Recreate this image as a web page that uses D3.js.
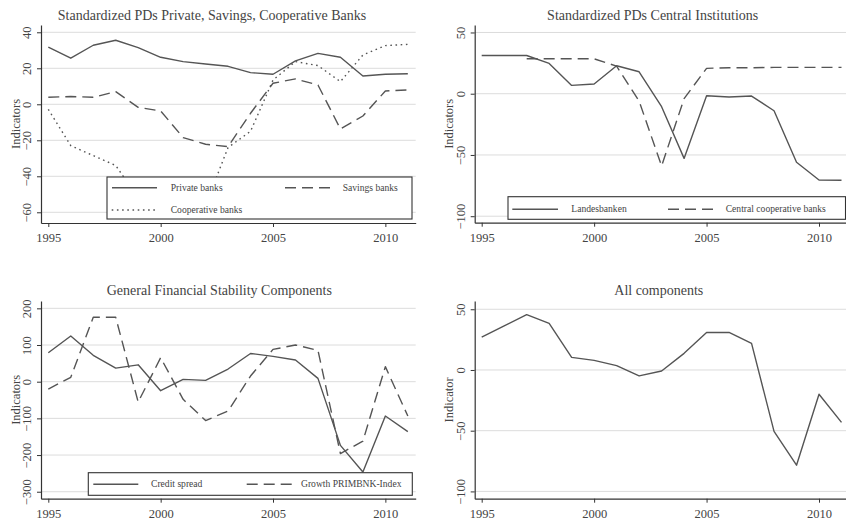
<!DOCTYPE html>
<html><head><meta charset="utf-8">
<script src="https://cdn.jsdelivr.net/npm/d3@7"></script>
<style>
body{margin:0;background:#fff}
svg{display:block}
text{font-family:"Liberation Serif","Times New Roman",serif;fill:#444}
</style>
</head><body>
<svg id="c" width="846" height="522"></svg>
<script>
// ---------- data ----------
const years = [1995,1996,1997,1998,1999,2000,2001,2002,2003,2004,2005,2006,2007,2008,2009,2010,2011];
const xTicks = [1995,2000,2005,2010];

const privateBanks     = [31.7,25.6,32.8,35.6,31.5,26.1,23.7,22.4,21.1,17.6,16.7,24.1,28.3,26.1,15.7,16.7,17.0];
const savingsBanks     = [3.9,4.3,3.9,7.0,-1.7,-3.7,-18.5,-22.2,-23.5,-5.0,11.7,14.1,10.7,-13.7,-6.5,7.4,8.0];
const cooperativeBanks = [-2.8,-23.0,-28.5,-34.0,-52,-55,-57,-56,-24.0,-15.0,13.5,23.7,21.5,12.6,27.4,32.6,33.3];

const landesbanken     = [31.2,31.2,31.2,24.7,6.8,7.9,22.8,17.9,-10.6,-52.8,-1.6,-2.7,-1.9,-13.9,-56.0,-70.4,-70.7];
const centralCoop      = [null,null,28.5,28.5,28.5,28.5,22.5,-6.0,-59.0,-4.0,20.7,21.2,21.2,21.5,21.5,21.5,21.5];

const creditSpread     = [79,124.5,72,37,46,-24.5,6.4,3.6,34.5,77,69,59,9,-173.6,-246,-93.6,-136];
const growthPrimbnk    = [-20,12,175.5,175.5,-55.5,65.5,-48,-106,-80,15.5,88,100,85.5,-196,-162,41,-93.6];

const allComponents    = [27,36.3,45.6,38.3,10.4,7.9,3.6,-4.9,-0.8,13.7,30.9,30.9,21.9,-50.5,-78.4,-20,-43.2];

const ticksP1 = [-60,-40,-20,0,20,40];
const ticksP2 = [-100,-50,0,50];
const ticksP3 = [-300,-200,-100,0,100,200];
const ticksP4 = [-100,-50,0,50];

// ---------- styles ----------
const LINE = "#555";
const DASH = "11,6";
const DOT = "1.6,3.6";

const panels = [
  { title:"Standardized PDs Private, Savings, Cooperative Banks", tx:212, ty:19.5,
    box:{l:41,r:415.7,t:25,b:223}, xd:[1994.675,2011.35], yd:[-65.95,44.05], yTicks:ticksP1, yLabel:"Indicators",
    series:[{v:privateBanks,d:null,name:"Private banks"},{v:savingsBanks,d:DASH,name:"Savings banks"},{v:cooperativeBanks,d:DOT,name:"Cooperative banks"}],
    legend:{x0:107,x1:412,y0:177,y1:219, items:[{s:0,l:112,r:157,t:170.7,y:187.7},{s:1,l:285,r:330,t:342.7,y:187.7},{s:2,l:111.7,r:156.7,t:170.7,y:210}]}
  },
  { title:"Standardized PDs Central Institutions", tx:652.7, ty:19.5,
    box:{l:474.7,r:846,t:25,b:222.7}, xd:[1994.689,2011.2], yd:[-105.3,56.1], yTicks:ticksP2, yLabel:"Indicators",
    series:[{v:landesbanken,d:null,name:"Landesbanken"},{v:centralCoop,d:DASH,name:"Central cooperative banks"}],
    legend:{x0:508,x1:845.5,y0:196.7,y1:219.3, items:[{s:0,l:512.3,r:558,t:571.3,y:209.3},{s:1,l:668,r:713,t:725.7,y:209.3}]}
  },
  { title:"General Financial Stability Components", tx:219.3, ty:295,
    box:{l:41,r:415.7,t:301,b:498.7}, xd:[1994.675,2011.35], yd:[-319,220], yTicks:ticksP3, yLabel:"Indicators",
    series:[{v:creditSpread,d:null,name:"Credit spread"},{v:growthPrimbnk,d:DASH,name:"Growth PRIMBNK-Index"}],
    legend:{x0:88.3,x1:412.3,y0:472.7,y1:495.3, items:[{s:0,l:93.3,r:138.3,t:151,y:484.3},{s:1,l:246.7,r:291.7,t:301,y:484.3}]}
  },
  { title:"All components", tx:658.8, ty:295,
    box:{l:474.7,r:846,t:301,b:498.7}, xd:[1994.689,2011.2], yd:[-106,56.8], yTicks:ticksP4, yLabel:"Indicator",
    series:[{v:allComponents,d:null,name:"All components"}],
    legend:null
  }
];

const svg = d3.select("#c");

panels.forEach((p,pi)=>{
  const g = svg.append("g");
  const x = d3.scaleLinear().domain(p.xd).range([p.box.l,p.box.r]);
  const y = d3.scaleLinear().domain(p.yd).range([p.box.b,p.box.t]);

  // grid
  g.append("g").selectAll("line").data(p.yTicks).join("line")
    .attr("x1",p.box.l).attr("x2",p.box.r)
    .attr("y1",d=>y(d)).attr("y2",d=>y(d))
    .attr("stroke","#dcdcdc").attr("stroke-width",1);

  // clip
  const cid = "clip"+pi;
  svg.append("clipPath").attr("id",cid).append("rect")
    .attr("x",p.box.l).attr("y",p.box.t).attr("width",p.box.r-p.box.l).attr("height",p.box.b-p.box.t);

  // lines
  const line = d3.line().defined(d=>d[1]!=null).x(d=>x(d[0])).y(d=>y(d[1]));
  p.series.forEach(s=>{
    g.append("path").datum(years.map((yr,i)=>[yr,s.v[i]]))
      .attr("d",line).attr("fill","none").attr("stroke",LINE)
      .attr("stroke-width",1.4).attr("stroke-linejoin","round")
      .attr("stroke-dasharray",s.d).attr("clip-path",`url(#${cid})`);
  });

  // x axis
  const xa = g.append("g").attr("transform",`translate(0,${p.box.b})`)
    .call(d3.axisBottom(x).tickValues(xTicks).tickFormat(d3.format("d")).tickSize(4).tickSizeOuter(0).tickPadding(6.5));
  xa.select(".domain").attr("stroke","#333").attr("stroke-width",1.2);
  xa.selectAll(".tick line").attr("stroke","#333");
  xa.selectAll("text").attr("font-size",12.5).attr("fill","#444").attr("font-family",'"Liberation Serif",serif');

  // y axis
  const ya = g.append("g").attr("transform",`translate(${p.box.l},0)`)
    .call(d3.axisLeft(y).tickValues(p.yTicks).tickSize(4).tickSizeOuter(0));
  ya.select(".domain").attr("stroke","#333").attr("stroke-width",1.2);
  ya.selectAll(".tick line").attr("stroke","#333");
  ya.selectAll("text").attr("font-size",12.5).attr("fill","#444").attr("font-family",'"Liberation Serif",serif')
    .attr("x",null).attr("dy",null).attr("text-anchor","middle")
    .attr("transform","translate(-10,0) rotate(-90)");

  // y label
  g.append("text").attr("transform",`translate(${p.box.l-21.5},${(p.box.t+p.box.b)/2}) rotate(-90)`)
    .attr("text-anchor","middle").attr("font-size",12.5).text(p.yLabel);

  // title
  g.append("text").attr("x",p.tx).attr("y",p.ty).attr("text-anchor","middle")
    .attr("font-size",14).text(p.title);

  // legend
  if(p.legend){
    const L = p.legend;
    g.append("rect").attr("x",L.x0).attr("y",L.y0).attr("width",L.x1-L.x0).attr("height",L.y1-L.y0)
      .attr("fill","#fff").attr("stroke","#333").attr("stroke-width",1.1);
    L.items.forEach(it=>{
      const s = p.series[it.s];
      g.append("line").attr("x1",it.l).attr("x2",it.r).attr("y1",it.y).attr("y2",it.y)
        .attr("stroke",LINE).attr("stroke-width",1.4).attr("stroke-dasharray",s.d);
      g.append("text").attr("x",it.t).attr("y",it.y).attr("dy","0.33em").attr("font-size",9.6).text(s.name);
    });
  }
});
</script>
</body></html>
